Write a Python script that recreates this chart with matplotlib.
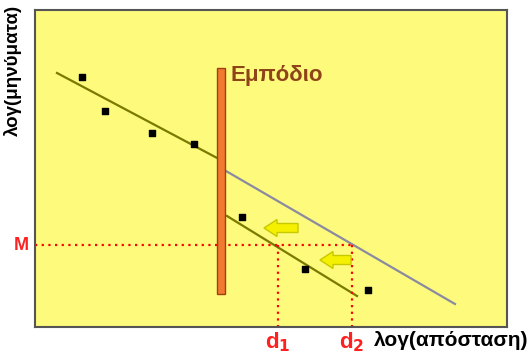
import matplotlib.pyplot as plt
from matplotlib.patches import Rectangle, FancyArrow

plt.rcParams['font.family'] = ['Liberation Sans', 'DejaVu Sans']

# schematic units (x = log distance, y = log messages, y grows downward like the picture)
pts_x = [82, 105, 152, 194, 242, 305, 368]
pts_y = [77, 111, 133, 144, 217, 269, 290]

fit_before_x = [57, 219]
fit_before_y = [73, 159]
free_x = [226, 455]
free_y = [171, 304]
fit_after_x = [227, 357]
fit_after_y = [216, 296]

obstacle_x = 221
obstacle_top, obstacle_bottom = 68, 294
M = 245
d1, d2 = 278, 352
arrows = [(298, 228, 264), (351, 260, 320)]

fig = plt.figure(figsize=(5.29, 3.56), dpi=100)
W, H = 529, 356
x0, x1, y0, y1 = 35, 507, 10, 327
ax = fig.add_axes([x0 / W, 1 - y1 / H, (x1 - x0) / W, (y1 - y0) / H])
ax.set_xlim(x0, x1)
ax.set_ylim(y1, y0)
ax.set_facecolor('#fdfa7c')
for s in ax.spines.values():
    s.set_color('#555555')
    s.set_linewidth(1.5)
ax.set_xticks([])
ax.set_yticks([])

ax.plot(fit_before_x, fit_before_y, color='#7a7a00', lw=1.6)
ax.plot(free_x, free_y, color='#8a8aa0', lw=1.6)
ax.plot(fit_after_x, fit_after_y, color='#7a7a00', lw=1.6)
ax.scatter(pts_x, pts_y, marker='s', s=22, color='black', zorder=5)

ax.add_patch(Rectangle((obstacle_x - 4, obstacle_top), 8, obstacle_bottom - obstacle_top,
                       facecolor='#f07a30', edgecolor='#a04010', lw=1, zorder=4))
ax.text(231, 75, 'Εμπόδιο', color='#8e4418', fontsize=16, fontweight='bold',
        va='center', ha='left')

ax.plot([x0, d2], [M, M], color='red', ls=(0, (1, 2)), lw=1.6)
ax.plot([d1, d1], [M, y1], color='red', ls=(0, (1, 2)), lw=1.6)
ax.plot([d2, d2], [M, y1], color='red', ls=(0, (1, 2)), lw=1.6)

for xs, y, xe in arrows:
    ax.add_patch(FancyArrow(xs, y, xe - xs, 0, width=9, head_width=17, head_length=13,
                            length_includes_head=True, facecolor='#f5f000',
                            edgecolor='#c8c800', lw=1, zorder=5))

fig.text(29 / W, 1 - M / H, 'M', color='#ff2020', fontsize=13, fontweight='bold',
         ha='right', va='center')
fig.text(d1 / W, 1 - 342 / H, 'd$_\\mathbf{1}$', color='#ff2020', fontsize=16, fontweight='bold',
         ha='center', va='center')
fig.text(d2 / W, 1 - 342 / H, 'd$_\\mathbf{2}$', color='#ff2020', fontsize=16, fontweight='bold',
         ha='center', va='center')
fig.text(528 / W, 1 - 340 / H, 'λογ(απόσταση)', color='black', fontsize=15,
         fontweight='bold', ha='right', va='center')
fig.text(13 / W, 1 - 70 / H, 'λογ(μηνύματα)', color='black', fontsize=13.5,
         fontweight='bold', rotation=90, ha='center', va='center')

fig.savefig('out.png', dpi=100)
